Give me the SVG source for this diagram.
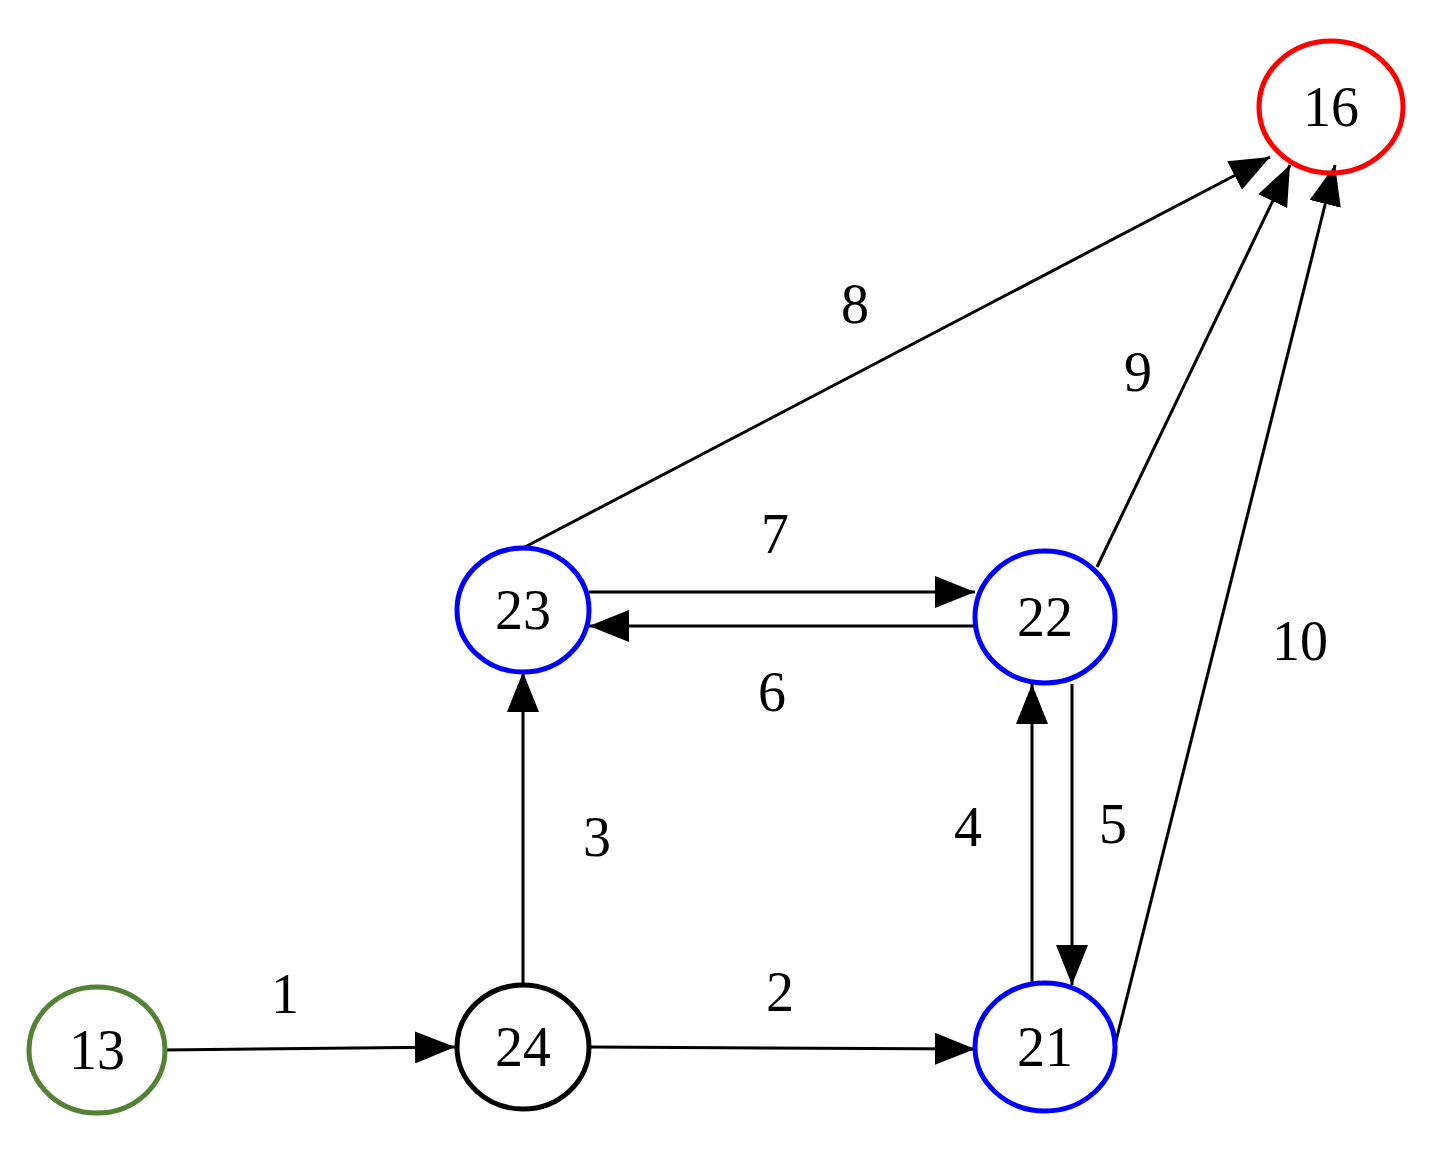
<svg xmlns="http://www.w3.org/2000/svg" width="1448" height="1160" viewBox="0 0 1448 1160">
<style>
.n{fill:none;stroke-width:5}
.t{font-family:"Liberation Serif",serif;font-size:56px;text-anchor:middle;fill:#000}
.e{stroke:#000;stroke-width:3;fill:none;marker-end:url(#a)}
</style>
<defs><marker id="a" markerUnits="userSpaceOnUse" markerWidth="42" markerHeight="32" refX="40" refY="16" orient="auto"><path d="M0,0L40,16L0,32Z" fill="#000"/></marker></defs>
<rect width="1448" height="1160" fill="#fff"/>
<g id="connectors">
<path class="e" d="M165,1050L455,1047"/>
<path class="e" d="M591,1047L975,1049"/>
<path class="e" d="M523,985L523,672"/>
<path class="e" d="M1032,985L1032,684"/>
<path class="e" d="M1072,684L1072,985"/>
<path class="e" d="M975,626L589,626"/>
<path class="e" d="M589,592L975,592"/>
<path class="e" d="M523,548L1270,157"/>
<path class="e" d="M1097,567L1290,165"/>
<path class="e" d="M1115,1045L1335,165"/>
<g class="t"><text x="285" y="1013">1</text><text x="780" y="1011">2</text><text x="597" y="856">3</text><text x="968" y="846">4</text><text x="1113" y="843">5</text><text x="772" y="711">6</text><text x="775" y="553">7</text><text x="855" y="323">8</text><text x="1138" y="391">9</text><text x="1300" y="660">10</text></g>
</g>
<g id="n13"><ellipse class="n" cx="97" cy="1050" rx="68" ry="63" stroke="#548235"/><text class="t" x="97" y="1069">13</text></g>
<g id="n24"><ellipse class="n" cx="523" cy="1047" rx="66" ry="62" stroke="#000"/><text class="t" x="523" y="1066">24</text></g>
<g id="n21"><ellipse class="n" cx="1045" cy="1047" rx="70" ry="64" stroke="#0000ff"/><text class="t" x="1045" y="1066">21</text></g>
<g id="n23"><ellipse class="n" cx="523" cy="610" rx="66" ry="62" stroke="#0000ff"/><text class="t" x="523" y="629">23</text></g>
<g id="n22"><ellipse class="n" cx="1045" cy="617" rx="70" ry="66" stroke="#0000ff"/><text class="t" x="1045" y="636">22</text></g>
<g id="n16"><ellipse class="n" cx="1331" cy="107" rx="72" ry="66" stroke="#ff0000"/><text class="t" x="1331" y="126">16</text></g>
</svg>
